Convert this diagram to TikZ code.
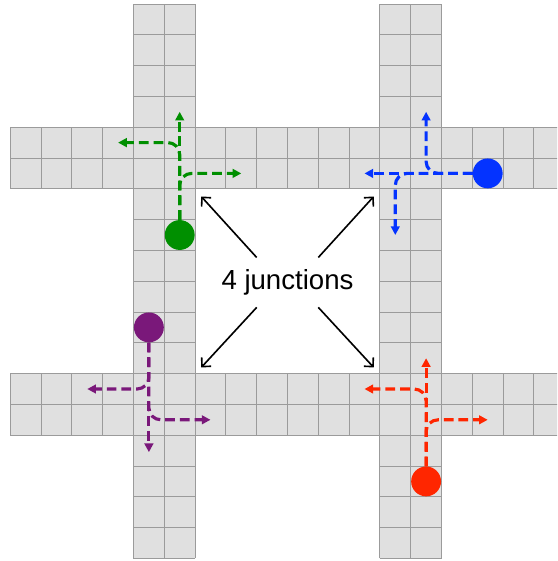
\documentclass[tikz,border=0pt]{standalone}
\usepackage{fontspec}
\setmainfont{Liberation Sans}
\usetikzlibrary{arrows.meta}
\definecolor{roadfill}{RGB}{224,224,224}
\definecolor{roadline}{RGB}{155,155,155}
\definecolor{cargreen}{RGB}{0,143,0}
\definecolor{carblue}{RGB}{4,51,255}
\definecolor{carpurple}{RGB}{122,24,122}
\definecolor{carred}{RGB}{255,38,0}

\begin{document}
\begin{tikzpicture}[
    road/.style={draw=roadline, line width=0.9pt},
    car/.style={circle, minimum size=0.97cm, inner sep=0pt},
    route/.style={line width=2.9pt, dash pattern=on 9pt off 4.6pt, rounded corners=11pt,
      -{Triangle[length=8pt,width=8pt]}},
    pointer/.style={line width=1.5pt, -{Straight Barb[length=6pt,width=12pt]}}]
  \clip (-0.334,-0.084) rectangle (17.75,18.13);
  \foreach \y in {4,12} \fill[roadfill] (0,\y) rectangle (18,\y+2);
  \foreach \x in {4,12} \fill[roadfill] (\x,0) rectangle (\x+2,18);
  \foreach \y in {4,12} \draw[road] (0,\y) grid (18,\y+2);
  \foreach \x in {4,12} \draw[road] (\x,0) grid (\x+2,18);

  \node[car, fill=cargreen] (G) at (5.5,10.5) {};
  \node[car, fill=carblue] (B) at (15.5,12.5) {};
  \node[car, fill=carpurple] (P) at (4.5,7.5) {};
  \node[car, fill=carred] (R) at (13.5,2.5) {};

  \coordinate (G1) at (5.5,14.5);
  \coordinate (G2) at (3.5,13.5);
  \coordinate (G3) at (7.5,12.5);
  \coordinate (B1) at (11.5,12.5);
  \coordinate (B2) at (13.5,14.5);
  \coordinate (B3) at (12.5,10.5);
  \coordinate (P1) at (4.5,3.45);
  \coordinate (P2) at (2.5,5.5);
  \coordinate (P3) at (6.5,4.5);
  \coordinate (R1) at (13.5,6.5);
  \coordinate (R2) at (11.5,5.5);
  \coordinate (R3) at (15.5,4.5);

  \draw[route, cargreen] (G) -- (G1);
  \draw[route, cargreen] (G) |- (G2);
  \draw[route, cargreen] (G) |- (G3);
  \draw[route, carblue] (B) -- (B1);
  \draw[route, carblue] (B) -| (B2);
  \draw[route, carblue] (B) -| (B3);
  \draw[route, carpurple] (P) -- (P1);
  \draw[route, carpurple] (P) |- (P2);
  \draw[route, carpurple] (P) |- (P3);
  \draw[route, carred] (R) -- (R1);
  \draw[route, carred] (R) |- (R2);
  \draw[route, carred] (R) |- (R3);

  \node[font=\fontsize{25.5}{30}\selectfont] (T) at (9,8.97) {4 junctions};
  \coordinate (J1) at (6.2,11.75);
  \coordinate (J2) at (11.8,11.75);
  \coordinate (J3) at (6.2,6.2);
  \coordinate (J4) at (11.8,6.2);
  \draw[pointer] ([shift={(-1,0.8)}]T.center) -- (J1);
  \draw[pointer] ([shift={(1,0.8)}]T.center) -- (J2);
  \draw[pointer] ([shift={(-1,-0.82)}]T.center) -- (J3);
  \draw[pointer] ([shift={(1,-0.82)}]T.center) -- (J4);
\end{tikzpicture}
\end{document}
